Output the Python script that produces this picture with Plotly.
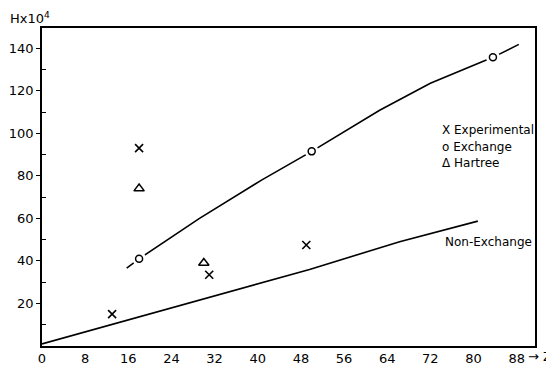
import plotly.graph_objects as go

# Data
exp_z = [13, 18, 31, 49]
exp_h = [15, 93, 33.5, 47.5]
exch_z = [18, 50, 83.6]
exch_h = [41, 91.5, 135.7]
hart_z = [18, 30]
hart_h = [74, 39]
exch_curve_z = [15.7, 18, 29.2, 40.7, 50, 62.6, 72, 83.6, 88.4]
exch_curve_h = [36.6, 41, 60, 78, 91.5, 110.8, 123.5, 135.7, 141.8]
nonex_z = [0, 29.2, 49.6, 66.3, 80.8]
nonex_h = [1, 21.6, 36, 49, 58.7]
x_ticks = [0, 8, 16, 24, 32, 40, 48, 56, 64, 72, 80, 88]
y_ticks = [20, 40, 60, 80, 100, 120, 140]

OFF = 8  # page body margin
W, H = 554 - OFF, 365 - OFF
L, R, T, B = 42 - OFF, 19, 28 - OFF, 19
PW, PH = W - L - R, H - T - B

FONT = "DejaVu Sans"
fig = go.Figure()
fig.add_trace(go.Scatter(x=exch_curve_z, y=exch_curve_h, mode="lines",
                         line=dict(color="black", width=1.6), hoverinfo="skip"))
fig.add_trace(go.Scatter(x=nonex_z, y=nonex_h, mode="lines",
                         line=dict(color="black", width=1.6), hoverinfo="skip"))
# white halos to make gaps around the circles
fig.add_trace(go.Scatter(x=exch_z, y=exch_h, mode="markers",
                         marker=dict(symbol="circle", size=14, color="white",
                                     line=dict(width=0))))
fig.add_trace(go.Scatter(x=exch_z, y=exch_h, mode="markers", name="Exchange",
                         marker=dict(symbol="circle-open", size=7, color="black",
                                     line=dict(width=1.5))))
fig.add_trace(go.Scatter(x=exp_z, y=exp_h, mode="markers", name="Experimental",
                         marker=dict(symbol="x-thin-open", size=8, color="black",
                                     line=dict(width=1.6))))
fig.add_trace(go.Scatter(x=hart_z, y=hart_h, mode="markers", name="Hartree",
                         marker=dict(symbol="triangle-up-open", size=9, color="black",
                                     line=dict(width=1.5))))

fig.update_layout(
    width=W, height=H, showlegend=False,
    margin=dict(l=L, r=R, t=T, b=B, autoexpand=False),
    paper_bgcolor="white", plot_bgcolor="white",
    font=dict(family=FONT, size=13, color="black"),
    xaxis=dict(range=[0, 91.4], tickvals=x_ticks, ticktext=[str(v) for v in x_ticks],
               showgrid=False, zeroline=False, ticks="", showline=True, mirror=True,
               linecolor="black", linewidth=1.5, tickfont=dict(size=13), automargin=False),
    yaxis=dict(range=[0, 149.5], tickvals=y_ticks, showgrid=False, zeroline=False,
               ticks="outside", ticklen=4, tickwidth=1.3, tickcolor="black",
               minor=dict(tickvals=[10, 30, 50, 70, 90, 110, 130], ticks="inside",
                          ticklen=4, tickwidth=1.2, tickcolor="black"),
               showline=True, mirror=True, linecolor="black", linewidth=1.6,
               tickfont=dict(size=13), automargin=False),
)
# positions in reference-picture pixels
anns = [
    dict(x=8, y=18, text="Hx10<sup>4</sup>", size=13),
    dict(x=526, y=356, text="→ Z", size=13),
    dict(x=440, y=130, text="X Experimental", size=12),
    dict(x=440, y=147, text="o Exchange", size=12),
    dict(x=440, y=163, text="Δ Hartree", size=12),
    dict(x=443, y=242, text="Non-Exchange", size=12),
]
for a in anns:
    fx, fy = a["x"] - OFF, a["y"] - OFF
    fig.add_annotation(x=(fx - L) / PW, y=(H - B - fy) / PH,
                       xref="paper", yref="paper",
                       text=a["text"], xanchor="left", yanchor="middle",
                       showarrow=False, font=dict(family=FONT, size=a["size"], color="black"))

fig.write_html("out.html")
